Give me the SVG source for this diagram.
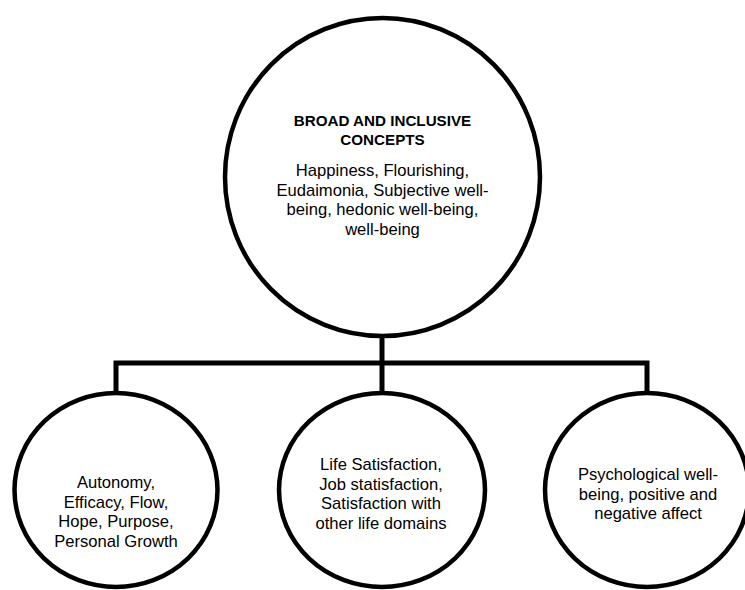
<svg xmlns="http://www.w3.org/2000/svg" width="745" height="590" viewBox="0 0 745 590">
  <style>
    .node { fill: #ffffff; stroke: #000000; stroke-width: 4.5; }
    .link { fill: none; stroke: #000000; stroke-width: 5; stroke-linejoin: miter; stroke-linecap: butt; }
    .t { font-family: "Liberation Sans", Arial, sans-serif; font-size: 16.6px; fill: #000000; text-anchor: middle; }
    .h { font-family: "Liberation Sans", Arial, sans-serif; font-size: 15.2px; font-weight: bold; fill: #000000; text-anchor: middle; }
  </style>
  <rect width="745" height="590" fill="#ffffff"/>

  <!-- tree connectors -->
  <g id="connectors">
    <path class="link" d="M382 336 V393"/>
    <path class="link" d="M116 393 V363 H647 V393"/>
  </g>

  <!-- root concept -->
  <g id="broad-concepts">
    <ellipse class="node" cx="382.5" cy="177" rx="157.5" ry="159"/>
    <text class="h" x="382.5" y="125.5">BROAD AND INCLUSIVE</text>
    <text class="h" x="382.5" y="145">CONCEPTS</text>
    <text class="t" x="382.5" y="176">Happiness, Flourishing,</text>
    <text class="t" x="382.5" y="195.5">Eudaimonia, Subjective well-</text>
    <text class="t" x="382.5" y="215">being, hedonic well-being,</text>
    <text class="t" x="382.5" y="234.5">well-being</text>
  </g>

  <!-- child concepts -->
  <g id="autonomy">
    <ellipse class="node" cx="116" cy="490" rx="101.5" ry="97"/>
    <text class="t" x="116" y="488">Autonomy,</text>
    <text class="t" x="116" y="507.5">Efficacy, Flow,</text>
    <text class="t" x="116" y="527">Hope, Purpose,</text>
    <text class="t" x="116" y="546.5">Personal Growth</text>
  </g>

  <g id="satisfaction">
    <ellipse class="node" cx="382" cy="490" rx="103" ry="97"/>
    <text class="t" x="381" y="470">Life Satisfaction,</text>
    <text class="t" x="381" y="489.5">Job statisfaction,</text>
    <text class="t" x="381" y="509">Satisfaction with</text>
    <text class="t" x="381" y="528.5">other life domains</text>
  </g>

  <g id="psychological">
    <ellipse class="node" cx="647" cy="490" rx="102" ry="97"/>
    <text class="t" x="648" y="480">Psychological well-</text>
    <text class="t" x="648" y="499.5">being, positive and</text>
    <text class="t" x="648" y="519">negative affect</text>
  </g>
</svg>
